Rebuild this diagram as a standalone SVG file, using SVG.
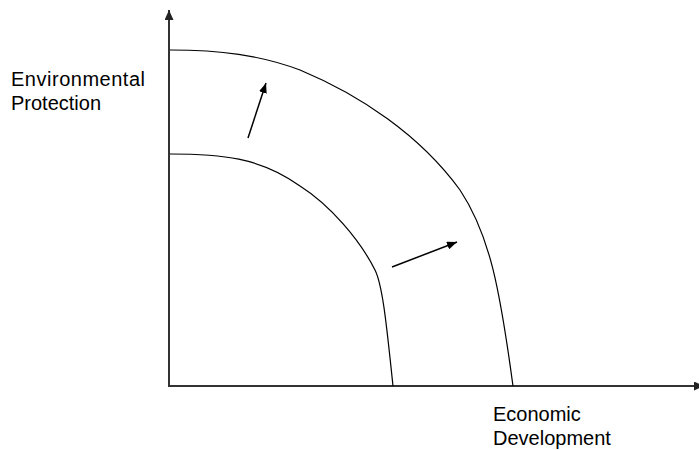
<svg xmlns="http://www.w3.org/2000/svg" width="699" height="450" viewBox="0 0 699 450">
<style>
.lbl{font-family:"Liberation Sans",Arial,sans-serif;font-size:20px;fill:#000}
.axis{stroke:#333;stroke-width:2;fill:none}
.curve{stroke:#000;stroke-width:1.2;fill:none}
.arr{stroke:#000;stroke-width:1.5;fill:none}
</style>
<defs>
<marker id="ah" markerWidth="10" markerHeight="8" refX="10" refY="4" orient="auto" markerUnits="userSpaceOnUse">
<path d="M0,0 L10,4 L0,8 Z" fill="#000"/>
</marker>
<marker id="axh" markerWidth="10" markerHeight="9" refX="10" refY="4.5" orient="auto" markerUnits="userSpaceOnUse">
<path d="M0,0 L10,4.5 L0,9 Z" fill="#222"/>
</marker>
</defs>
<g id="axes">
<path class="axis" d="M169,386 L169,10" marker-end="url(#axh)"/>
<path class="axis" d="M168,386 L704,386" marker-end="url(#axh)"/>
</g>
<g id="curve-outer">
<path class="curve" d="M170,50 C220,50 260,55 300,70 C360,95 420,135 460,190 C490,235 500,290 513,386"/>
</g>
<g id="curve-inner">
<path class="curve" d="M170,154 C220,154 260,157 300,186 C330,205 360,240 375,270 C383,286 387,330 393,386"/>
</g>
<g id="connectors">
<path class="arr" d="M248,138 L266,83" marker-end="url(#ah)"/>
<path class="arr" d="M392,267 L457,242" marker-end="url(#ah)"/>
</g>
<g id="label-y">
<text class="lbl" x="11" y="86" textLength="134" lengthAdjust="spacing">Environmental</text>
<text class="lbl" x="11" y="110">Protection</text>
</g>
<g id="label-x">
<text class="lbl" x="493" y="421">Economic</text>
<text class="lbl" x="493" y="445">Development</text>
</g>
</svg>
